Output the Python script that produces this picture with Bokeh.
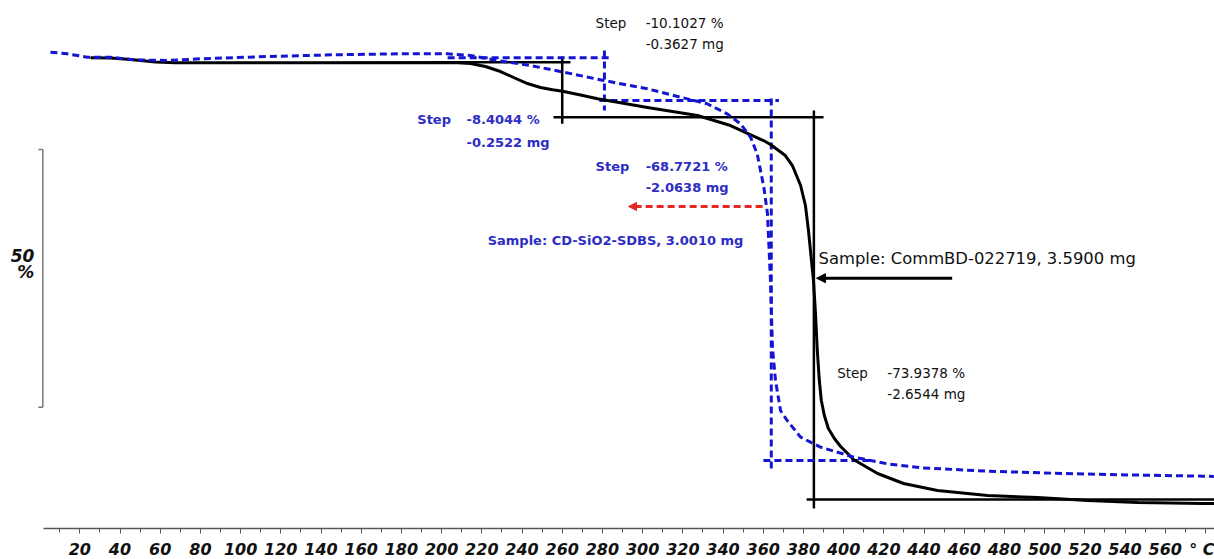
from bokeh.plotting import figure
from bokeh.models import FixedTicker, Arrow, NormalHead, Range1d
from bokeh.core.properties import value
from bokeh.embed import file_html
from bokeh.resources import INLINE

# ---- data (temperature in deg C, mass in %) ----
black_T = [25.3, 35.3, 45.2, 57.7, 67.6, 129.8, 205.9, 214.4, 221.8, 229.3, 235.8, 242.7,
           249.2, 255.2, 260.2, 269.1, 277.6, 302.4, 327.3, 343.7, 360.1, 363.6, 371.0,
           374.5, 378.6, 381.0, 382.5, 384.0, 385.0, 386.0, 386.9, 387.9, 388.9, 390.4,
           392.4, 395.4, 398.5, 402.0, 404.9, 416.9, 429.8, 446.7, 471.6, 496.5, 521.4,
           546.2, 579.1, 584.5]
black_w = [100.0, 99.96, 99.67, 99.19, 99.03, 99.03, 99.09, 98.89, 98.31, 97.34, 96.18, 95.01,
           94.24, 93.79, 93.52, 92.78, 92.04, 90.36, 88.80, 86.86, 83.95, 83.17, 81.04,
           79.10, 75.22, 71.34, 66.49, 60.67, 56.79, 50.39, 43.21, 37.39, 33.51, 30.60,
           28.08, 26.14, 24.59, 23.23, 22.06, 19.34, 17.40, 16.04, 15.07, 14.69, 14.11,
           13.72, 13.52, 13.52]

blue_T = [5.4, 13.7, 23.7, 35.3, 46.7, 63.5, 80.1, 113.2, 146.2, 179.6, 202.8, 214.4, 227.7,
          244.2, 260.8, 280.7, 302.3, 318.9, 332.1, 342.1, 348.7, 353.7, 357.0, 360.3,
          362.1, 363.6, 364.6, 366.1, 368.6, 371.9, 378.6, 388.5, 405.1, 421.7, 438.3,
          471.9, 504.4, 537.8, 579.1, 584.5]
blue_w = [101.09, 100.78, 100.12, 100.12, 99.61, 99.48, 99.81, 100.25, 100.58, 100.78, 100.78,
          100.45, 99.48, 98.51, 97.21, 95.60, 93.99, 92.36, 91.08, 89.13, 87.19, 84.59, 81.37,
          74.89, 69.79, 56.79, 43.79, 37.39, 31.56, 29.63, 26.39, 24.45, 22.51, 21.23, 20.45,
          19.79, 19.40, 19.09, 18.82, 18.76]

# step-evaluation marker lines
black_step_x0 = [204.4, 260.0, 255.7, 385.2, 381.6]
black_step_y0 = [99.15, 100.25, 88.47, 89.77, 14.30]
black_step_x1 = [264.1, 260.0, 390.0, 385.2, 584.5]
black_step_y1 = [99.15, 87.20, 88.47, 12.56, 14.30]

blue_step_x0 = [203.0, 281.0, 278.5, 364.0, 360.1]
blue_step_y0 = [100.0, 101.4, 91.72, 92.10, 21.87]
blue_step_x1 = [284.0, 281.0, 367.8, 364.0, 415.0]
blue_step_y1 = [100.0, 89.77, 91.72, 20.10, 21.87]

tick_values = list(range(20, 600, 20))
minor_values = list(range(10, 590, 10))

black_texts = ["Step", "-10.1027 %", "-0.3627 mg", "Step", "-73.9378 %", "-2.6544 mg"]
blue_texts = ["Step", "-8.4044 %", "-0.2522 mg", "Step", "-68.7721 %", "-2.0638 mg",
              "Sample: CD-SiO2-SDBS, 3.0010 mg"]
black_sample = "Sample: CommBD-022719, 3.5900 mg"

BLUE = "#1414d2"
BLUE_TXT = "#2d2dc4"
RED = "#e82626"
FONT = "DejaVu Sans"

p = figure(frame_width=1214, frame_height=528,
           x_range=Range1d(-19.45, 584.5), y_range=Range1d(8.67, 111.12),
           output_backend="svg", toolbar_location=None, y_axis_location=None,
           min_border_left=0, min_border_right=0, min_border_top=0, min_border_bottom=0)
p.xgrid.visible = False
p.ygrid.visible = False
p.outline_line_color = None
p.background_fill_color = "white"
p.border_fill_color = "white"

ax = p.xaxis[0]
ax.ticker = FixedTicker(ticks=tick_values, minor_ticks=minor_values)
ax.major_label_overrides = {580: "° C"}
ax.bounds = (2, 584.5)
ax.axis_line_color = "#555555"
ax.axis_line_width = 1.5
ax.major_tick_line_color = "#555555"
ax.minor_tick_line_color = "#555555"
ax.major_tick_out = 5
ax.major_tick_in = 0
ax.minor_tick_out = 4
ax.minor_tick_in = 0
ax.major_label_text_font = FONT
ax.major_label_text_font_style = "bold italic"
ax.major_label_text_font_size = "16px"
ax.major_label_text_color = "#111111"
ax.major_label_standoff = 6

# scale bar (50 %)
p.segment(x0=[1.6, -0.6, -0.6], y0=[32.21, 82.21, 32.21], x1=[1.6, 1.6, 1.6], y1=[82.21, 82.21, 32.21],
          line_color="#777777", line_width=1.5)
p.text(x=[-2.6, -2.6], y=[61.7, 58.5], text=["50", "%"], text_align="right", text_baseline="middle",
       text_font=value(FONT), text_font_style="bold italic", text_font_size="17px", text_color="#111111")

# step lines
p.segment(x0=black_step_x0, y0=black_step_y0, x1=black_step_x1, y1=black_step_y1,
          line_color="black", line_width=2.5)
p.segment(x0=blue_step_x0, y0=blue_step_y0, x1=blue_step_x1, y1=blue_step_y1,
          line_color=BLUE, line_width=3, line_dash="7 4")

# curves
p.line(black_T, black_w, line_color="black", line_width=3, line_join="round")
p.line(blue_T, blue_w, line_color=BLUE, line_width=3, line_dash="7 4", line_join="round")

# arrows
p.add_layout(Arrow(end=NormalHead(size=8, fill_color=RED, line_color=RED),
                   x_start=359.7, y_start=71.15, x_end=293.0, y_end=71.15,
                   line_color=RED, line_width=3, line_dash="7 4"))
p.add_layout(Arrow(end=NormalHead(size=9, fill_color="black", line_color="black"),
                   x_start=454.0, y_start=57.24, x_end=386.5, y_end=57.24,
                   line_color="black", line_width=3))

# labels
p.text(x=[276.6, 301.5, 301.5, 396.8, 421.7, 421.7],
       y=[106.7, 106.7, 102.7, 38.8, 38.8, 34.8],
       text=black_texts, text_align="left", text_baseline="middle",
       text_font=value(FONT), text_font_size="13.5px", text_color="#111111")
p.text(x=[187.9, 212.4, 212.4, 276.6, 301.5, 301.5, 222.9],
       y=[88.0, 88.0, 83.62, 78.91, 78.91, 74.78, 64.55],
       text=blue_texts, text_align="left", text_baseline="middle",
       text_font=value(FONT), text_font_style="bold", text_font_size="13px", text_color=BLUE_TXT)
p.text(x=[387.5], y=[61.0], text=[black_sample], text_align="left", text_baseline="middle",
       text_font=value(FONT), text_font_size="16.4px", text_color="#111111")

open("out.html", "w").write(file_html(p, INLINE))
